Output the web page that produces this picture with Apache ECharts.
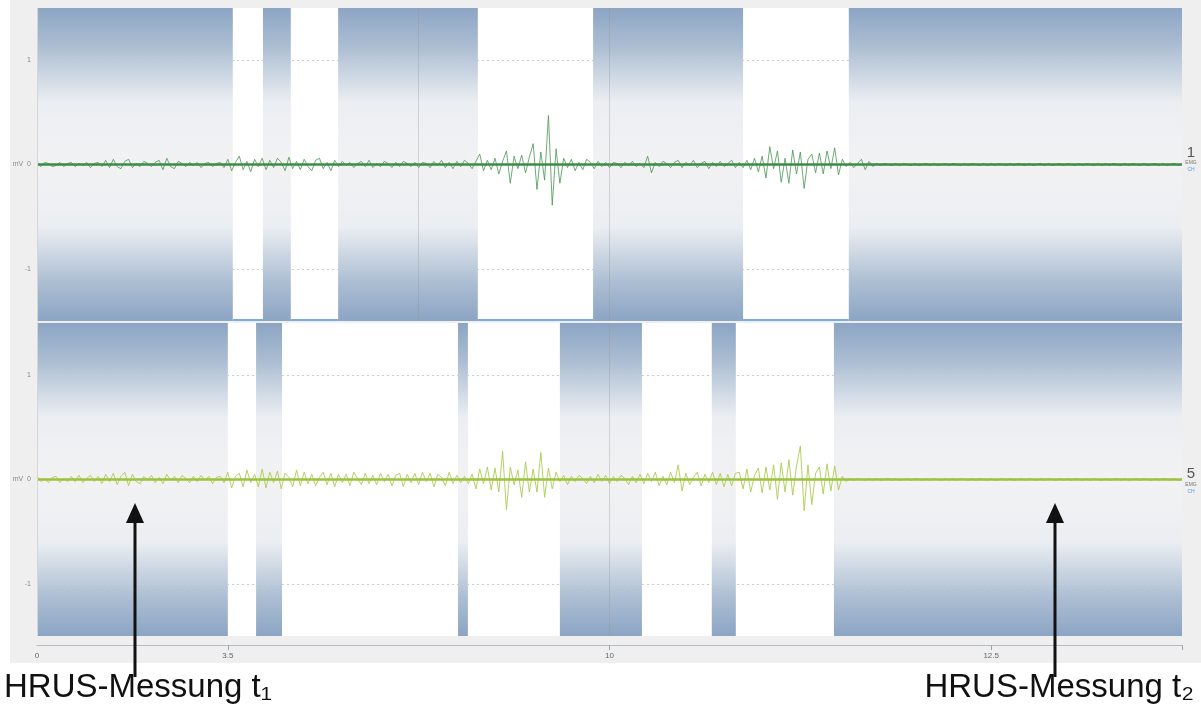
<!DOCTYPE html>
<html>
<head>
<meta charset="utf-8">
<script src="https://cdn.jsdelivr.net/npm/echarts@6/dist/echarts.min.js"></script>
<style>html,body{margin:0;padding:0;background:#fff}#c{width:1201px;height:717px}</style>
</head>
<body>
<div id="c"></div>
<script>
// ---- data ----
const sampleStep = 0.1; // seconds per sample
const xTickValues = [0, 5, 15, 25];
const xTickLabels = ['0', '3.5', '10', '12.5'];
const yTickValues = [-1, 0, 1];
const channelLabels = ['1', '5'];

// white (unshaded) time ranges per channel
const gapsCh1 = [[5.13, 5.92], [6.65, 7.89], [11.55, 14.57], [18.50, 21.27]];
const gapsCh5 = [[5.00, 5.74], [6.42, 11.03], [11.29, 13.70], [15.85, 17.68], [18.31, 20.88]];

// EMG channel 1 (mV)
const emg1 = [
0.01,-0.02,0.02,0.01,-0.02,-0.01,0.02,-0.02,0.01,0.02,
-0.02,0.01,-0.01,0.02,-0.03,0.01,0.02,-0.02,0.04,-0.03,
0.05,-0.02,-0.04,0.03,0.05,-0.03,0.01,-0.02,0.03,0.01,
-0.02,0.02,0.04,-0.05,0.06,-0.02,-0.04,0.03,0.01,-0.02,
0.02,-0.01,0.02,-0.03,0.01,0.02,-0.02,0.01,0.02,-0.03,
0.05,-0.06,0.02,0.08,-0.05,0.03,-0.07,0.05,-0.02,0.06,
-0.05,0.04,-0.03,0.06,0.02,-0.06,0.07,-0.04,0.03,-0.05,
0.05,-0.02,-0.06,0.04,0.06,-0.04,0.02,-0.06,0.04,-0.02,
0.03,-0.01,0.02,-0.03,0.01,0.03,-0.02,0.04,-0.03,0.01,
-0.02,0.03,0.01,-0.03,0.02,-0.02,0.03,0.01,-0.02,0.02,
-0.03,0.02,0.01,-0.03,0.03,-0.01,0.04,-0.03,0.02,-0.04,
0.03,-0.02,0.04,0.01,-0.04,0.03,0.10,-0.06,0.04,-0.05,
0.06,-0.09,0.03,0.13,-0.18,0.08,-0.04,0.09,-0.08,0.07,
0.20,-0.24,0.12,-0.15,0.47,-0.39,0.15,-0.18,0.06,-0.03,
0.05,-0.06,0.02,-0.05,0.05,0.02,-0.04,0.03,-0.02,0.02,
-0.03,0.02,0.01,-0.03,0.02,-0.01,0.03,-0.02,0.01,-0.03,
0.08,-0.08,0.02,-0.02,0.03,0.01,-0.03,0.02,0.04,-0.03,
0.02,-0.01,0.04,-0.03,0.01,0.03,-0.04,0.02,-0.02,0.03,
-0.02,0.01,0.04,-0.03,0.02,-0.03,0.04,-0.05,0.06,-0.07,
0.08,-0.13,0.17,-0.04,0.13,-0.17,0.06,-0.18,0.14,-0.09,
0.12,-0.23,0.05,0.10,-0.08,0.11,-0.09,0.13,-0.04,0.16,
-0.10,0.05,-0.02,0.02,-0.03,0.01,0.05,-0.05,0.03,-0.02,
0.01,-0.01,0.01,0.00,-0.01,0.01,-0.01,0.01,0.00,-0.01,
0.01,-0.01,0.00,0.01,-0.01,0.01,-0.01,0.00,0.01,-0.01,
0.01,0.00,-0.01,0.01,-0.01,0.01,0.00,-0.01,0.01,-0.01,
0.01,-0.01,0.01,0.00,-0.01,0.01,-0.01,0.01,0.00,-0.01,
0.01,-0.01,0.00,0.01,-0.01,0.01,-0.01,0.00,0.01,-0.01,
0.01,0.00,-0.01,0.01,-0.01,0.01,0.00,-0.01,0.01,-0.01,
0.01,-0.01,0.01,0.00,-0.01,0.01,-0.01,0.01,0.00,-0.01,
0.01,-0.01,0.00,0.01,-0.01,0.01,-0.01,0.00,0.01,-0.01,0
];

// EMG channel 5 (mV)
const emg5 = [
0.03,-0.02,0.01,-0.03,0.02,0.03,-0.03,0.01,-0.02,0.03,
-0.02,0.04,-0.03,0.01,0.04,-0.02,0.03,-0.04,0.05,-0.02,
0.06,-0.05,0.03,0.07,-0.06,0.05,-0.02,-0.04,0.03,-0.01,
0.04,-0.03,0.02,-0.04,0.05,-0.01,0.03,-0.03,0.04,0.01,
-0.03,0.03,-0.02,0.04,-0.01,0.03,-0.04,0.02,0.03,-0.03,
0.07,-0.08,0.03,0.06,-0.07,0.09,-0.03,0.05,-0.07,0.10,
-0.08,0.07,-0.03,0.08,-0.09,0.06,0.02,-0.07,0.09,-0.06,
0.07,-0.04,0.05,-0.06,0.02,0.07,-0.05,0.06,-0.07,0.05,
-0.03,0.05,-0.06,0.07,0.01,-0.05,0.06,-0.04,0.04,-0.05,
0.06,-0.02,0.05,-0.06,0.04,0.06,-0.07,0.05,-0.03,0.06,
-0.05,0.07,-0.02,0.06,-0.07,0.05,0.02,-0.06,0.07,-0.04,
0.04,-0.03,0.03,-0.04,0.05,-0.09,0.10,-0.04,0.12,-0.10,
0.11,-0.12,0.27,-0.29,0.12,-0.05,0.09,-0.17,0.17,-0.12,
0.10,-0.12,0.26,-0.17,0.11,-0.09,0.07,-0.02,0.04,-0.05,
0.03,-0.02,0.04,0.01,-0.04,0.03,-0.03,0.05,-0.02,0.04,
-0.04,0.03,-0.02,0.04,0.01,-0.05,0.03,-0.03,0.05,-0.04,
0.06,-0.02,0.07,-0.06,0.03,-0.05,0.07,-0.03,0.14,-0.11,
0.06,-0.05,0.02,0.07,-0.06,0.05,-0.03,0.07,-0.05,0.06,
-0.07,0.05,-0.06,0.06,0.07,-0.09,0.10,-0.12,0.04,0.11,
-0.13,0.12,-0.10,0.14,-0.19,0.16,-0.12,0.19,-0.15,0.13,
0.32,-0.30,0.14,-0.24,0.06,0.12,-0.14,0.15,-0.11,0.13,
-0.10,0.03,-0.02,0.01,-0.01,0.01,0.00,-0.01,0.01,-0.01,
0.01,-0.01,0.00,0.01,-0.01,0.01,-0.01,0.00,0.01,-0.01,
0.01,0.00,-0.01,0.01,-0.01,0.01,0.00,-0.01,0.01,-0.01,
0.01,-0.01,0.01,0.00,-0.01,0.01,-0.01,0.01,0.00,-0.01,
0.01,-0.01,0.00,0.01,-0.01,0.01,-0.01,0.00,0.01,-0.01,
0.01,0.00,-0.01,0.01,-0.01,0.01,0.00,-0.01,0.01,-0.01,
0.01,-0.01,0.01,0.00,-0.01,0.01,-0.01,0.01,0.00,-0.01,
0.01,-0.01,0.00,0.01,-0.01,0.01,-0.01,0.00,0.01,-0.01,
0.01,0.00,-0.01,0.01,-0.01,0.01,0.00,-0.01,0.01,-0.01,0
];

// ---- chart ----
const toXY = arr => arr.map((v, i) => [+(i * sampleStep).toFixed(2), v]);
const bandGradient = {
  type: 'linear', x: 0, y: 0, x2: 0, y2: 1,
  colorStops: [
    { offset: 0, color: '#8ca5c4' },
    { offset: 0.12, color: '#abbdd2' },
    { offset: 0.30, color: '#ebeef2' },
    { offset: 0.5, color: '#f2f2f3' },
    { offset: 0.70, color: '#ebeef2' },
    { offset: 0.88, color: '#abbdd2' },
    { offset: 1, color: '#8ca5c4' }
  ]
};
const labelMap = {};
xTickValues.forEach((v, i) => { labelMap[v] = xTickLabels[i]; });

function yAxisCfg(gi) {
  return {
    gridIndex: gi, type: 'value', min: -1.5, max: 1.5, z: 5,
    axisLine: { show: true, onZero: false, lineStyle: { color: '#d6d6d6', width: 1 } },
    axisTick: { show: false },
    splitLine: { show: false },
    axisLabel: {
      customValues: yTickValues, fontSize: 7, color: '#888', margin: 6,
      fontFamily: 'Liberation Sans',
      formatter: v => (v === 0 ? 'mV  0' : String(v))
    }
  };
}

function signalSeries(gi, data, lineColor, baseColor, gaps, vLines, gapUnderline) {
  const extra = gapUnderline
    ? gaps.map(g => [
        { coord: [g[0], -1.485], lineStyle: { color: '#74ade8', type: 'solid', width: 2 } },
        { coord: [g[1], -1.485] }
      ])
    : [];
  return {
    type: 'line', xAxisIndex: gi, yAxisIndex: gi, data: toXY(data),
    showSymbol: false, symbol: 'none', silent: true,
    lineStyle: { color: lineColor, width: 1 },
    markArea: {
      silent: true,
      itemStyle: { color: '#ffffff', opacity: 1 },
      data: gaps.map(g => [{ xAxis: g[0] }, { xAxis: g[1] }])
    },
    markLine: {
      silent: true, symbol: 'none', label: { show: false },
      data: [
        { yAxis: 1, lineStyle: { color: '#c9ccd2', type: [2, 3], width: 1 } },
        { yAxis: -1, lineStyle: { color: '#c9ccd2', type: [2, 3], width: 1 } },
        { yAxis: 0, lineStyle: { color: baseColor, type: 'solid', width: 2.5 } }
      ].concat(vLines.map(v => ({ xAxis: v, lineStyle: { color: 'rgba(150,150,150,0.35)', type: 'solid', width: 1 } })))
       .concat(extra)
    }
  };
}

const chart = echarts.init(document.getElementById('c'), null, { renderer: 'canvas' });
chart.setOption({
  animation: false,
  backgroundColor: '#efefef',
  grid: [
    { left: 37, right: 19, top: 8, height: 313, show: true, backgroundColor: bandGradient, borderWidth: 0 },
    { left: 37, right: 19, top: 323, height: 313, show: true, backgroundColor: bandGradient, borderWidth: 0 }
  ],
  xAxis: [
    { gridIndex: 0, type: 'value', min: 0, max: 30,
      axisLine: { show: false }, axisTick: { show: false }, axisLabel: { show: false }, splitLine: { show: false } },
    { gridIndex: 1, type: 'value', min: 0, max: 30, offset: 9,
      axisLine: { show: true, onZero: false, lineStyle: { color: '#b4bcc8', width: 1 } },
      axisTick: { show: true, customValues: [5, 15, 25, 30], length: 5, lineStyle: { color: '#9aa2ae' } },
      axisLabel: { customValues: xTickValues, fontSize: 8, color: '#666', margin: 7,
        fontFamily: 'Liberation Sans', formatter: v => labelMap[v] },
      splitLine: { show: false } }
  ],
  yAxis: [yAxisCfg(0), yAxisCfg(1)],
  series: [
    signalSeries(0, emg1, 'rgba(72,150,82,0.8)', '#3d8b4a', gapsCh1, [10, 15], true),
    signalSeries(1, emg5, 'rgba(166,202,72,0.85)', '#9dc23e', gapsCh5, [15], false)
  ],
  graphic: [
    { type: 'rect', shape: { x: 0, y: 663, width: 1201, height: 54 }, style: { fill: '#ffffff' } },
    { type: 'rect', shape: { x: 0, y: 0, width: 10, height: 663 }, style: { fill: '#ffffff' } },
    // channel labels
    { type: 'text', x: 1191, y: 153, style: { text: channelLabels[0], fontSize: 15, fill: '#555', fontFamily: 'Liberation Sans Narrow, Liberation Sans', align: 'center', verticalAlign: 'middle' } },
    { type: 'text', x: 1191, y: 163, style: { text: 'EMG', fontSize: 5, fill: '#777', fontFamily: 'Liberation Sans', align: 'center', verticalAlign: 'middle' } },
    { type: 'text', x: 1191, y: 170, style: { text: 'CH', fontSize: 5, fill: '#5aa0e0', fontFamily: 'Liberation Sans', align: 'center', verticalAlign: 'middle' } },
    { type: 'text', x: 1191, y: 474, style: { text: channelLabels[1], fontSize: 15, fill: '#555', fontFamily: 'Liberation Sans Narrow, Liberation Sans', align: 'center', verticalAlign: 'middle' } },
    { type: 'text', x: 1191, y: 485, style: { text: 'EMG', fontSize: 5, fill: '#777', fontFamily: 'Liberation Sans', align: 'center', verticalAlign: 'middle' } },
    { type: 'text', x: 1191, y: 492, style: { text: 'CH', fontSize: 5, fill: '#5aa0e0', fontFamily: 'Liberation Sans', align: 'center', verticalAlign: 'middle' } },
    // annotations
    { type: 'line', shape: { x1: 135, y1: 677, x2: 135, y2: 518 }, style: { stroke: '#111', lineWidth: 3 }, z: 100 },
    { type: 'polygon', shape: { points: [[135, 503], [126, 523], [144, 523]] }, style: { fill: '#111' }, z: 100 },
    { type: 'line', shape: { x1: 1055, y1: 677, x2: 1055, y2: 518 }, style: { stroke: '#111', lineWidth: 3 }, z: 100 },
    { type: 'polygon', shape: { points: [[1055, 503], [1046, 523], [1064, 523]] }, style: { fill: '#111' }, z: 100 },
    { type: 'text', x: 4, y: 704, style: { text: 'HRUS-Messung t\u2081', fontSize: 33, fill: '#111', fontFamily: 'Liberation Sans', align: 'left', verticalAlign: 'bottom' }, z: 100 },
    { type: 'text', x: 1194, y: 704, style: { text: 'HRUS-Messung t\u2082', fontSize: 33, fill: '#111', fontFamily: 'Liberation Sans', align: 'right', verticalAlign: 'bottom' }, z: 100 }
  ]
});
</script>
</body>
</html>
